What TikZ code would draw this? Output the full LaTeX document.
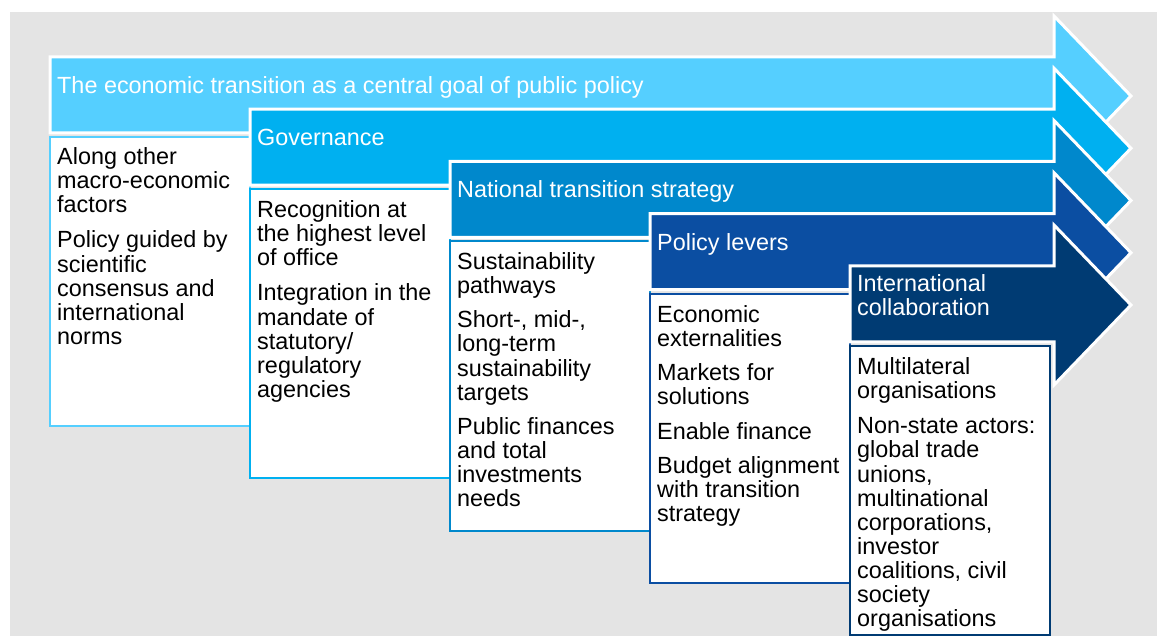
\documentclass[tikz,border=0pt]{standalone}
\usepackage{fontspec}
\setmainfont{Liberation Sans}
\definecolor{bggrey}{HTML}{E4E4E4}
\definecolor{cA}{HTML}{55CFFF}
\definecolor{cB}{HTML}{00B0F0}
\definecolor{cC}{HTML}{0088CC}
\definecolor{cD}{HTML}{0B4EA2}
\definecolor{cE}{HTML}{003B73}
\newcommand\bigarrow[3]{%
  \filldraw[arrowshape, fill=#3] (#1,#2) -- (1054,#2) -- (1054,#2-41) -- (1131,#2+39)
    -- (1054,#2+119) -- (1054,#2+76) -- (#1,#2+76) -- cycle;}
\newcommand\whitebox[3]{%
  \draw[boxshape, draw=#3] (#1,#2+80) rectangle (#1+200,#2+369);}
\begin{document}
\begin{tikzpicture}[x=1pt,y=-1pt,
  arrowshape/.style={draw=white, line width=3pt, line join=miter},
  boxshape/.style={fill=white, line width=2pt},
  ttl/.style={anchor=north west, text=white, inner sep=0pt, align=left,
    font=\fontsize{23.4}{24.1}\selectfont},
  body/.style={anchor=north west, text=black, inner sep=0pt, align=left,
    font=\fontsize{23.4}{24.1}\selectfont}]
\useasboundingbox (0,0) rectangle (1157,636);
\fill[white] (0,0) rectangle (1157,636);
\fill[bggrey] (10,12) rectangle (1157,636);
% arrows and boxes
\bigarrow{50}{57}{cA}
\whitebox{50}{57}{cA}
\bigarrow{250}{109.25}{cB}
\whitebox{250}{109.25}{cB}
\bigarrow{450}{161.5}{cC}
\whitebox{450}{161.5}{cC}
\bigarrow{650}{213.75}{cD}
\whitebox{650}{213.75}{cD}
\bigarrow{850}{266}{cE}
\whitebox{850}{266}{cE}
% titles
\node[ttl] (t1) at (57,76.5) {The economic transition as a central goal of public policy};
\node[ttl] (t2) at (257,128.5) {Governance};
\node[ttl] (t3) at (457,180.5) {National transition strategy};
\node[ttl] (t4) at (657,233.5) {Policy levers};
\node[ttl] (t5) at (857,274.5) {International\\collaboration};
% bodies
\node[body] (b1) at (57,147.5) {Along other\\macro-economic\\factors\\[11pt]Policy guided by\\scientific\\consensus and\\international\\norms};
\node[body] (b2) at (257,200.5) {Recognition at\\the highest level\\of office\\[11pt]Integration in the\\mandate of\\statutory/\\regulatory\\agencies};
\node[body] (b3) at (457,252.5) {Sustainability\\pathways\\[10pt]Short-, mid-,\\long-term\\sustainability\\targets\\[10pt]Public finances\\and total\\investments\\needs};
\node[body] (b4) at (657,305.5) {Economic\\externalities\\[10pt]Markets for\\solutions\\[10pt]Enable finance\\[10pt]Budget alignment\\with transition\\strategy};
\node[body] (b5) at (857,357.5) {Multilateral\\organisations\\[11pt]Non-state actors:\\global trade\\unions,\\multinational\\corporations,\\investor\\coalitions, civil\\society\\organisations};
\end{tikzpicture}
\end{document}
